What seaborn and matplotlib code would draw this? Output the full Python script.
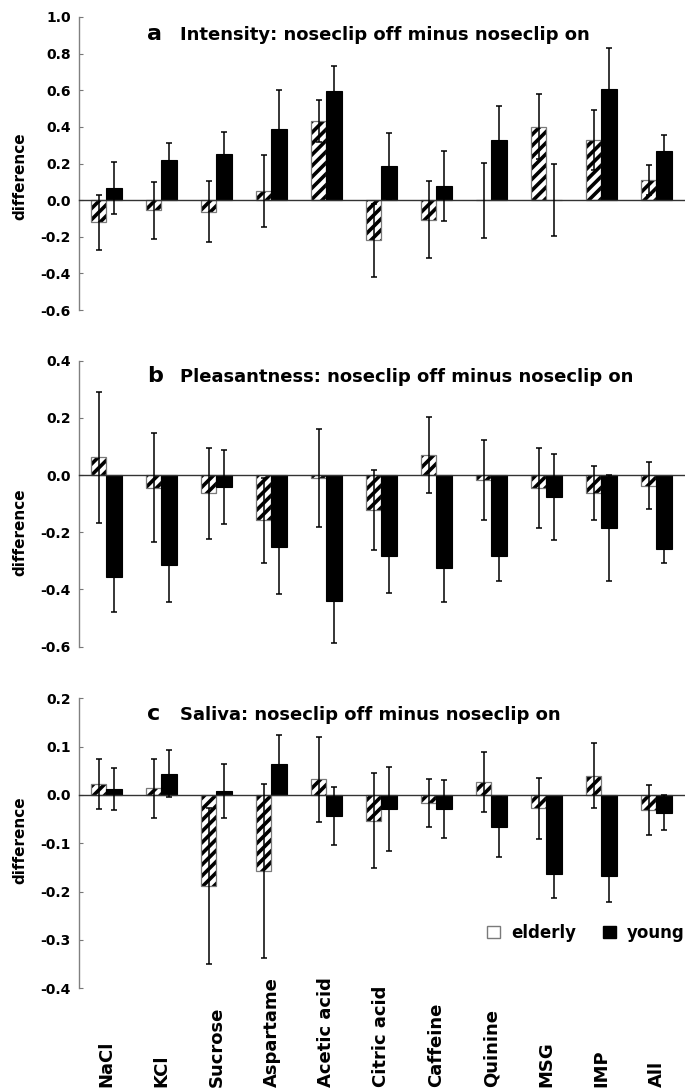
import numpy as np
import pandas as pd
import matplotlib
matplotlib.use("Agg")
import matplotlib.pyplot as plt
import seaborn as sns
from matplotlib.transforms import blended_transform_factory
from matplotlib.patches import Patch

# ---------------- data ----------------
categories = ["NaCl", "KCl", "Sucrose", "Aspartame", "Acetic acid", "Citric acid",
              "Caffeine", "Quinine", "MSG", "IMP", "All"]
groups = ["elderly", "young"]

intensity_elderly = [-0.12, -0.056, -0.063, 0.052, 0.433, -0.22, -0.107, 0.0, 0.40, 0.328, 0.109]
intensity_elderly_se = [0.15, 0.157, 0.166, 0.197, 0.115, 0.20, 0.21, 0.205, 0.178, 0.163, 0.083]
intensity_young = [0.065, 0.219, 0.252, 0.387, 0.596, 0.185, 0.076, 0.328, 0.0, 0.607, 0.27]
intensity_young_se = [0.142, 0.093, 0.118, 0.217, 0.137, 0.18, 0.19, 0.187, 0.198, 0.222, 0.085]

pleasant_elderly = [0.062, -0.044, -0.064, -0.158, -0.01, -0.123, 0.07, -0.017, -0.044, -0.063, -0.038]
pleasant_elderly_se = [0.228, 0.19, 0.16, 0.148, 0.172, 0.14, 0.134, 0.139, 0.14, 0.095, 0.082]
pleasant_young = [-0.358, -0.316, -0.042, -0.253, -0.442, -0.284, -0.324, -0.284, -0.076, -0.185, -0.258]
pleasant_young_se = [0.122, 0.129, 0.13, 0.162, 0.145, 0.128, 0.12, 0.088, 0.151, 0.186, 0.048]

saliva_elderly = [0.022, 0.014, -0.188, -0.157, 0.032, -0.053, -0.017, 0.026, -0.028, 0.04, -0.031]
saliva_elderly_se = [0.052, 0.061, 0.162, 0.18, 0.088, 0.098, 0.05, 0.062, 0.064, 0.067, 0.052]
saliva_young = [0.012, 0.044, 0.009, 0.064, -0.043, -0.03, -0.03, -0.067, -0.163, -0.168, -0.037]
saliva_young_se = [0.044, 0.049, 0.056, 0.061, 0.06, 0.087, 0.06, 0.062, 0.05, 0.053, 0.036]

yticks_a = [-0.6, -0.4, -0.2, 0.0, 0.2, 0.4, 0.6, 0.8, 1.0]
yticks_b = [-0.6, -0.4, -0.2, 0.0, 0.2, 0.4]
yticks_c = [-0.4, -0.3, -0.2, -0.1, 0.0, 0.1, 0.2]

titles = ["Intensity: noseclip off minus noseclip on",
          "Pleasantness: noseclip off minus noseclip on",
          "Saliva: noseclip off minus noseclip on"]
letters = ["a", "b", "c"]
ylabel = "difference"

# ---------------- style ----------------
sns.set_theme(style="white", rc={"text.color": "black", "axes.labelcolor": "black",
                                 "xtick.color": "black", "ytick.color": "black"})
plt.rcParams["font.family"] = ["DejaVu Sans"]
plt.rcParams["font.weight"] = "bold"
plt.rcParams["axes.unicode_minus"] = False
plt.rcParams["hatch.linewidth"] = 2.6

fig = plt.figure(figsize=(6.85, 10.89), dpi=100)

panels = [
    dict(rect=[0.1153, 0.7153, 0.8832, 0.2691], e=intensity_elderly, ese=intensity_elderly_se,
         y=intensity_young, yse=intensity_young_se, ticks=yticks_a, lab_y=0.457, title_y=0.920),
    dict(rect=[0.1153, 0.4062, 0.8832, 0.2626], e=pleasant_elderly, ese=pleasant_elderly_se,
         y=pleasant_young, yse=pleasant_young_se, ticks=yticks_b, lab_y=0.401, title_y=0.9266),
    dict(rect=[0.1153, 0.0925, 0.8832, 0.2663], e=saliva_elderly, ese=saliva_elderly_se,
         y=saliva_young, yse=saliva_young_se, ticks=yticks_c, lab_y=0.511, title_y=0.925),
]

n = len(categories)
for k, sp in enumerate(panels):
    ax = fig.add_axes(sp["rect"])
    df = pd.DataFrame({
        "taste": categories * 2,
        "group": [groups[0]] * n + [groups[1]] * n,
        "value": list(sp["e"]) + list(sp["y"]),
    })
    sns.barplot(data=df, x="taste", y="value", hue="group", order=categories,
                hue_order=groups, palette={"elderly": "white", "young": "black"},
                width=0.55, errorbar=None, legend=False, saturation=1, ax=ax)

    bars = [p for p in ax.patches]
    el = sorted([p for p in bars if p.get_facecolor()[0] > 0.5], key=lambda p: p.get_x())
    yo = sorted([p for p in bars if p.get_facecolor()[0] <= 0.5], key=lambda p: p.get_x())
    for p in el:
        p.set_hatch("///")
        p.set_edgecolor("black")
        p.set_linewidth(0.9)
        if hasattr(p, "set_hatchcolor"):
            p.set_hatchcolor("black")
            p.set_edgecolor("#7a7a7a")
        else:
            p.set_edgecolor("#7a7a7a")
            p._hatch_color = (0, 0, 0, 1)
    for p in yo:
        p.set_facecolor("black")
        p.set_edgecolor("black")
        p.set_linewidth(0.8)

    for patches, vals, errs in ((el, sp["e"], sp["ese"]), (yo, sp["y"], sp["yse"])):
        xs = [p.get_x() + p.get_width() / 2 for p in patches]
        ax.errorbar(xs, vals, yerr=errs, fmt="none", ecolor="black", elinewidth=1.1,
                    capsize=2.0, capthick=1.1, zorder=4)

    ticks = sp["ticks"]
    ax.set_xlim(-0.5, n - 0.5)
    ax.set_ylim(ticks[0], ticks[-1])
    ax.set_yticks(ticks)
    ax.set_yticklabels([f"{t:.1f}" for t in ticks])
    ax.set_xticks(np.arange(n) + 0.5)
    ax.set_xticklabels([])
    ax.set_xlabel("")
    ax.spines["top"].set_visible(False)
    ax.spines["right"].set_visible(False)
    ax.spines["bottom"].set_position(("data", 0))
    ax.spines["bottom"].set_color("#333333")
    ax.spines["bottom"].set_linewidth(1.0)
    ax.spines["left"].set_color("#808080")
    ax.spines["left"].set_linewidth(1.0)
    ax.tick_params(axis="x", direction="in", length=3, color="#777777", width=0.8)
    ax.tick_params(axis="y", direction="in", length=3, color="#777777", width=0.8,
                   labelsize=10, pad=6, left=True, labelcolor="black")
    for lbl in ax.get_yticklabels():
        lbl.set_fontweight("bold")

    ax.set_ylabel(ylabel, fontsize=11, fontweight="bold", color="black")
    ax.yaxis.set_label_coords(-0.086, sp["lab_y"])

    ax.text(0.112, sp["title_y"], letters[k], fontsize=16, fontweight="bold", color="black",
            va="baseline", ha="left", transform=ax.transAxes)
    ax.text(0.167, sp["title_y"], titles[k], fontsize=13, fontweight="bold", color="black",
            va="baseline", ha="left", transform=ax.transAxes)

    if k == 2:
        handles = [Patch(facecolor="white", edgecolor="#7a7a7a", label=groups[0]),
                   Patch(facecolor="black", edgecolor="black", label=groups[1])]
        ax.legend(handles=handles, loc="center right", bbox_to_anchor=(1.0, 1 - 933 / 1089),
                  bbox_transform=fig.transFigure, ncol=2, frameon=False,
                  prop={"size": 12, "weight": "bold"}, handlelength=0.75, handleheight=0.75,
                  handletextpad=0.7, columnspacing=1.6, borderpad=0, borderaxespad=0,
                  labelcolor="black")
        trans = blended_transform_factory(ax.transData, fig.transFigure)
        for i, name in enumerate(categories):
            ax.text(i, 0.002, name, rotation=90, ha="center", va="bottom", fontsize=13,
                    fontweight="bold", color="black", transform=trans, clip_on=False)

fig.savefig("out.png", dpi=100)
